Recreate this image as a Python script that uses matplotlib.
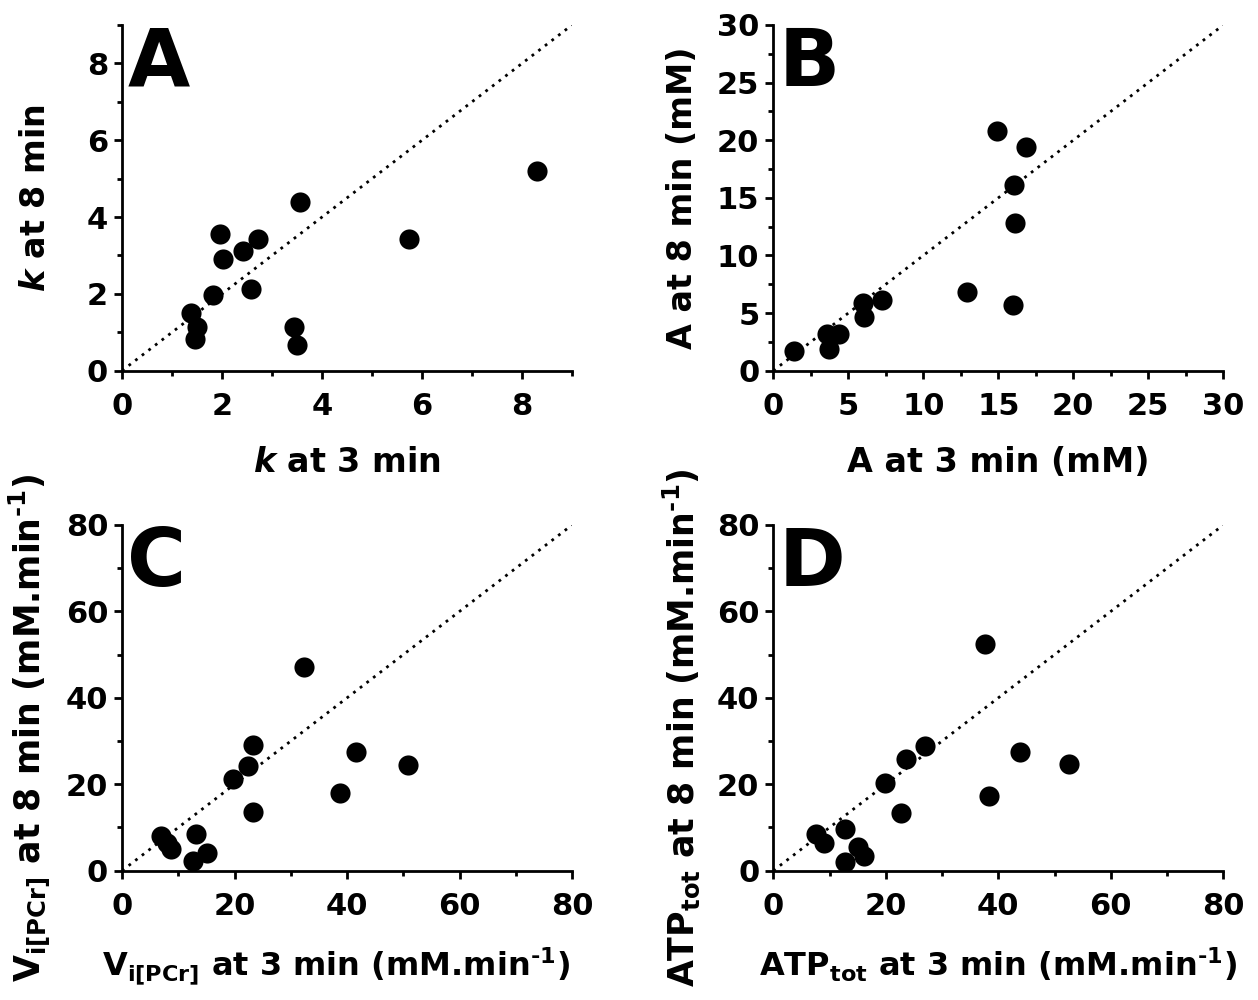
import numpy as np
import matplotlib
matplotlib.use("Agg")
import matplotlib.pyplot as plt
from matplotlib.ticker import MultipleLocator

plt.rcParams['font.family'] = ['DejaVu Sans']
plt.rcParams['font.weight'] = 'bold'
plt.rcParams['mathtext.fontset'] = 'custom'
plt.rcParams['mathtext.bf'] = 'DejaVu Sans:bold'
plt.rcParams['mathtext.rm'] = 'DejaVu Sans:bold'
plt.rcParams['mathtext.it'] = 'DejaVu Sans:bold:italic'
plt.rcParams['mathtext.default'] = 'bf'

# Panel A: rate constant k
k_3min = [1.37, 1.49, 1.45, 1.81, 1.96, 2.01, 2.41, 2.72, 2.58, 3.55, 3.43, 3.49, 5.73, 8.29]
k_8min = [1.50, 1.15, 0.83, 1.97, 3.55, 2.92, 3.12, 3.42, 2.12, 4.40, 1.15, 0.66, 3.42, 5.21]

# Panel B: amplitude A (mM)
a_3min = [1.40, 3.60, 4.40, 3.71, 5.96, 6.07, 7.22, 12.93, 14.89, 16.82, 16.04, 16.11, 16.00]
a_8min = [1.72, 3.17, 3.17, 1.89, 5.87, 4.62, 6.10, 6.83, 20.81, 19.42, 16.10, 12.85, 5.67]

# Panel C: Vi[PCr] (mM/min)
v_3min = [6.94, 7.95, 8.66, 13.17, 12.57, 15.18, 19.69, 22.36, 23.31, 23.37, 32.44, 38.67, 41.58, 50.77]
v_8min = [8.02, 6.32, 4.93, 8.48, 2.31, 4.01, 21.13, 24.21, 29.07, 13.65, 47.03, 17.89, 27.53, 24.36]

# Panel D: ATPtot (mM/min)
atp_3min = [7.59, 9.07, 12.74, 12.80, 14.99, 16.12, 19.79, 23.59, 26.96, 22.76, 37.63, 38.40, 43.85, 52.50]
atp_8min = [8.40, 6.32, 9.64, 2.08, 5.55, 3.47, 20.35, 25.75, 28.84, 13.26, 52.43, 17.19, 27.53, 24.67]

unit = 'mM.min$^{\u2010\\mathbf{1}}$'
panels = [
    ('A', k_3min, k_8min, 9, 2, 1,
     r'$\mathit{k}$ at 3 min', r'$\mathit{k}$ at 8 min'),
    ('B', a_3min, a_8min, 30, 5, 2.5,
     'A at 3 min (mM)', 'A at 8 min (mM)'),
    ('C', v_3min, v_8min, 80, 20, 10,
     r'V$_{\mathbf{i[PCr]}}$ at 3 min (' + unit + ')',
     r'V$_{\mathbf{i[PCr]}}$ at 8 min (' + unit + ')'),
    ('D', atp_3min, atp_8min, 80, 20, 10,
     r'ATP$_{\mathbf{tot}}$ at 3 min (' + unit + ')',
     r'ATP$_{\mathbf{tot}}$ at 8 min (' + unit + ')'),
]

positions = [
    [0.0970, 0.6293, 0.3577, 0.3457],
    [0.6147, 0.6293, 0.3577, 0.3457],
    [0.0970, 0.1293, 0.3577, 0.3457],
    [0.6147, 0.1293, 0.3577, 0.3457],
]
ylabel_pads = [25, 13, 10, 11]
ylabel_y = [0.5, 0.5, 0.413, 0.413]
xlabel_x = [0.5, 0.5, 0.475, 0.5]
ylabel_size = [24, 24, 25, 25]
xlabel_size = [24, 24, 23, 23]

fig = plt.figure(figsize=(12.58, 10), dpi=100)

for i, ((letter, x, y, lim, major, minor, xlab, ylab), pos) in enumerate(zip(panels, positions)):
    ax = fig.add_axes(pos)
    ax.plot([0, lim], [0, lim], linestyle=(0, (1, 2)), color='black', linewidth=2)
    ax.plot(x, y, 'o', color='black', markersize=14.5, markeredgewidth=0)
    ax.set_xlim(0, lim)
    ax.set_ylim(0, lim)
    ax.xaxis.set_major_locator(MultipleLocator(major))
    ax.yaxis.set_major_locator(MultipleLocator(major))
    ax.xaxis.set_minor_locator(MultipleLocator(minor))
    ax.yaxis.set_minor_locator(MultipleLocator(minor))
    ax.spines['top'].set_visible(False)
    ax.spines['right'].set_visible(False)
    for s in ['left', 'bottom']:
        ax.spines[s].set_linewidth(2)
    ax.tick_params(which='major', length=6, width=2, labelsize=22)
    ax.tick_params(axis='x', which='major', pad=9)
    ax.tick_params(axis='y', which='major', pad=4)
    ax.tick_params(which='minor', length=3.5, width=2)
    for lbl in ax.get_xticklabels() + ax.get_yticklabels():
        lbl.set_fontweight('bold')
    ax.set_xlabel(xlab, fontsize=xlabel_size[i], fontweight='bold', labelpad=18)
    ax.set_ylabel(ylab, fontsize=ylabel_size[i], fontweight='bold', labelpad=ylabel_pads[i])
    ax.xaxis.label.set_x(xlabel_x[i])
    ax.yaxis.label.set_y(ylabel_y[i])
    ax.text(0.012, 1.0, letter, transform=ax.transAxes, fontsize=58,
            fontweight='bold', va='top', ha='left')

fig.savefig('out.png', dpi=100)
